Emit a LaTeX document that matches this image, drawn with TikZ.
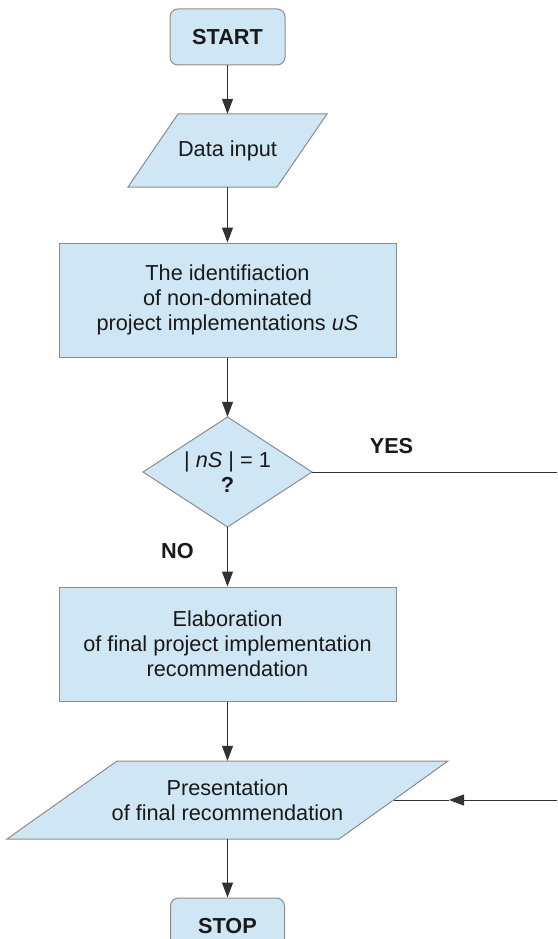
\documentclass[tikz,border=0pt]{standalone}
\usepackage{fontspec}
\setmainfont{Liberation Sans}
\usetikzlibrary{arrows.meta}
\definecolor{boxfill}{RGB}{207,231,245}
\definecolor{boxline}{RGB}{140,140,140}
\definecolor{connline}{RGB}{50,50,50}
\begin{document}
\begin{tikzpicture}[x=1pt,y=-1pt,
  shapebox/.style={draw=boxline, fill=boxfill, line width=1pt},
  txt/.style={font=\fontsize{21.7}{25}\selectfont, align=center, inner sep=0pt, text=black!90},
  boldtxt/.style={font=\fontsize{21.7}{25}\selectfont\bfseries, align=center, inner sep=0pt, text=black!90},
  conn/.style={draw=connline, line width=1pt, -{Triangle[length=15pt,width=11pt]}},
  plainline/.style={draw=connline, line width=1pt}]
\useasboundingbox (0,0) rectangle (557,939);
\clip (0,0) rectangle (557,939);

% START
\node[shapebox, boldtxt, rounded corners=8pt, minimum width=115pt, minimum height=56pt] (start) at (227.5,37) {START};

% Data input (parallelogram)
\draw[shapebox] (178,114) -- (327,114) -- (277,187) -- (128,187) -- cycle;
\node[txt, minimum width=149pt, minimum height=73pt] (data) at (227.5,150.5) {Data input};

% Identification box
\node[shapebox, txt, minimum width=337pt, minimum height=114pt] (ident) at (227.5,300)
  {The identifiaction\\of non-dominated\\project implementations \textit{uS}};

% Decision diamond
\draw[shapebox] (227.5,417) -- (312,472) -- (227.5,527) -- (143,472) -- cycle;
\node[txt, minimum width=169pt, minimum height=110pt] (dec) at (227.5,472)
  {\raisebox{0pt}{| \textit{nS} | = 1}\\\textbf{?}};

% Elaboration box
\node[shapebox, txt, minimum width=337pt, minimum height=114pt] (elab) at (227.5,644)
  {Elaboration\\of final project implementation\\recommendation};

% Presentation (parallelogram)
\draw[shapebox] (117,761) -- (448,761) -- (339,839) -- (7,839) -- cycle;
\node[txt, minimum width=221pt, minimum height=78pt] (pres) at (227.5,800)
  {Presentation\\of final recommendation};

% STOP
\node[shapebox, boldtxt, rounded corners=8pt, minimum width=114pt, minimum height=56pt] (stop) at (227.5,926) {STOP};

% free ends
\coordinate (yesend) at (557,472);
\coordinate (inend) at (557,800);
\coordinate (intip) at (449,800);
\coordinate (presR) at (393.5,800);

% connectors
\draw[conn] (start.south) -- (data.north);
\draw[conn] (data.south) -- (ident.north);
\draw[conn] (ident.south) -- (dec.north);
\draw[conn] (dec.south) -- (elab.north);
\draw[conn] (elab.south) -- (pres.north);
\draw[conn] (pres.south) -- (stop.north);
\draw[plainline] (dec.east) -- (yesend);
\draw[conn] (inend) -- (intip);
\draw[plainline] (intip) -- (presR);

% labels
\node[boldtxt] (yes) at (391.5,446.5) {YES};
\node[boldtxt] (no) at (177.5,551) {NO};
\end{tikzpicture}
\end{document}
